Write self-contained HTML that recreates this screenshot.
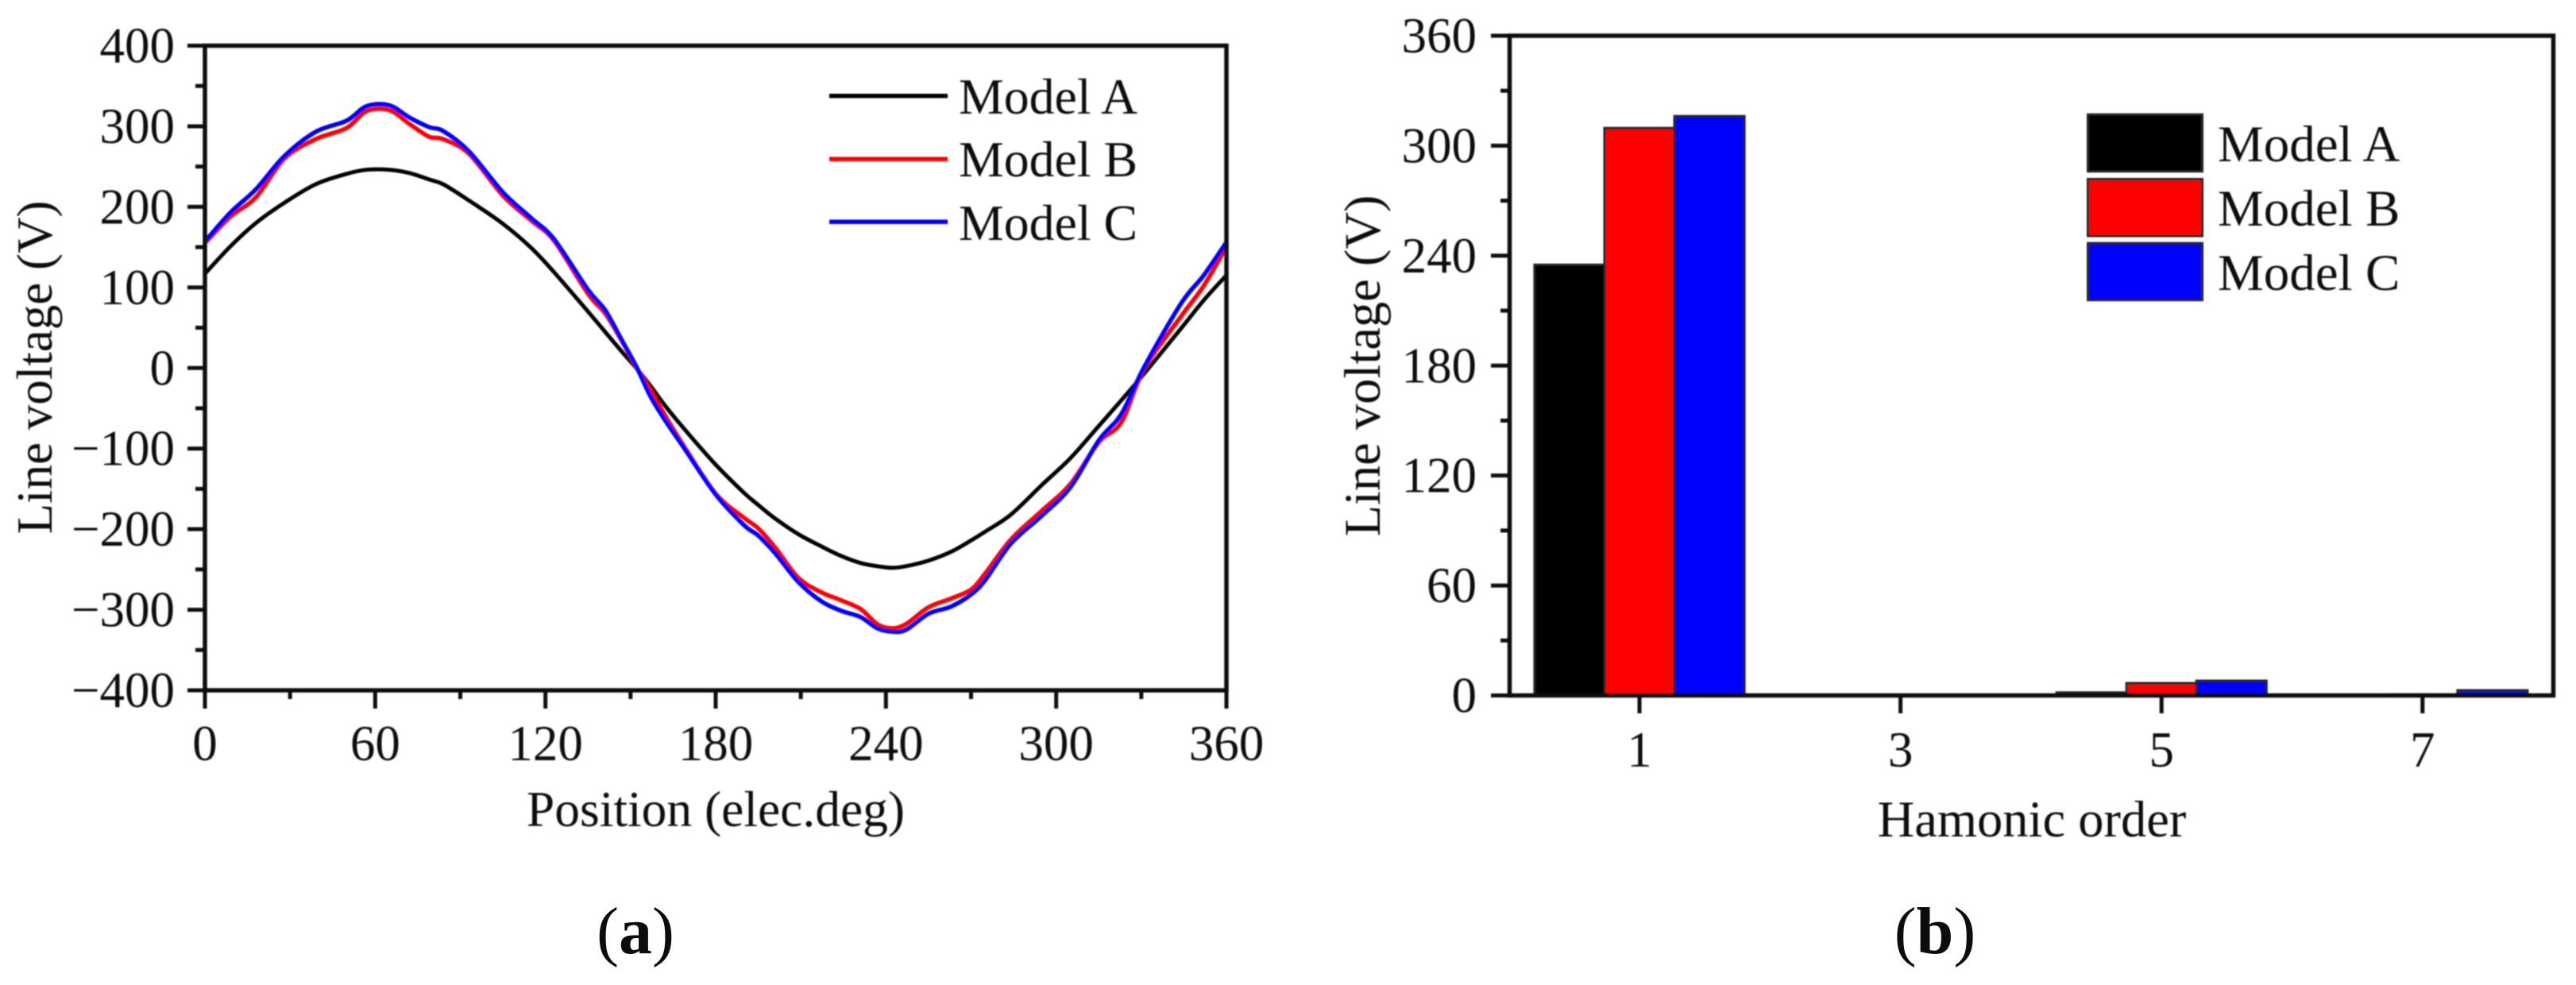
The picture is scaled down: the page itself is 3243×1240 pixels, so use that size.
<!DOCTYPE html>
<html lang="en">
<head>
<meta charset="utf-8">
<title>Line voltage waveform and harmonic spectrum</title>
<style>
  html, body { margin: 0; padding: 0; background: #fff; }
  svg { display: block; }
  text { font-family: "Liberation Serif", serif; fill: #0c0c0c; }
</style>
</head>
<body>
<svg id="fig" xmlns="http://www.w3.org/2000/svg" width="3243" height="1240" viewBox="0 0 3243 1240">
  <defs>
    <filter id="soft" x="-2%" y="-2%" width="104%" height="104%"><feGaussianBlur stdDeviation="0.7"/></filter>
  </defs>
  <rect x="0" y="0" width="3243" height="1240" fill="#fff"/>

  <g id="chartA" filter="url(#soft)">
    <g id="seriesA" fill="none" stroke-linejoin="round" stroke-linecap="round"></g>
    <rect x="258" y="57.5" width="1286" height="811.5" fill="none" stroke="#111" stroke-width="5.5"/>
    <g id="ticksA"></g>
    <text x="901" y="1040" font-size="63.5" text-anchor="middle">Position (elec.deg)</text>
    <text transform="translate(65 462.5) rotate(-90)" font-size="63" text-anchor="middle">Line voltage (V)</text>
    <g>
      <line x1="1044" x2="1193" y1="120.7" y2="120.7" stroke="#000" stroke-width="5.5"/>
      <text x="1207" y="143" font-size="63.8">Model A</text>
      <line x1="1044" x2="1193" y1="200.3" y2="200.3" stroke="#f00" stroke-width="5.5"/>
      <text x="1207" y="222" font-size="63.8">Model B</text>
      <line x1="1044" x2="1193" y1="279.3" y2="279.3" stroke="#00f" stroke-width="5.5"/>
      <text x="1207" y="302" font-size="63.8">Model C</text>
    </g>
  </g>
  <text x="800" y="1200" font-size="84" text-anchor="middle" fill="#000">(<tspan font-weight="bold">a</tspan>)</text>

  <g id="chartB" filter="url(#soft)">
    <g id="barsB"></g>
    <rect x="1900.5" y="45" width="1314" height="830.5" fill="none" stroke="#111" stroke-width="5.5"/>
    <g id="ticksB"></g>
    <text x="2558" y="1053" font-size="64.5" text-anchor="middle">Hamonic order</text>
    <text transform="translate(1737 460.5) rotate(-90)" font-size="64.5" text-anchor="middle">Line voltage (V)</text>
    <g>
      <rect x="2628.5" y="144.2" width="144" height="71.5" fill="#000" stroke="#222" stroke-width="3"/>
      <text x="2792" y="203" font-size="65">Model A</text>
      <rect x="2628.5" y="225.5" width="144" height="71.5" fill="#f00" stroke="#222" stroke-width="3"/>
      <text x="2792" y="284" font-size="65">Model B</text>
      <rect x="2628.5" y="306.2" width="144" height="71.5" fill="#00f" stroke="#222" stroke-width="3"/>
      <text x="2792" y="365" font-size="65">Model C</text>
    </g>
  </g>
  <text x="2436" y="1200" font-size="84" text-anchor="middle" fill="#000">(<tspan font-weight="bold">b</tspan>)</text>
</svg>

<script>
// Waveform chart data (electrical degrees, volts)
const positionDeg = [0,9,18,28,39,50,57,65,72,79,84,93,105,115,123,135,141,147,152,157,162,169,180,190,195,201,209,217,224,231,237,242,247,255,263,270,275,284,295,305,315,323,331,344,352,360];
const modelAVoltage = [117,151,180,205,228,241,246,246,242,234,228,208,179,149,119,70,45,20,0,-22,-46,-76,-120,-155,-170,-187,-206,-221,-233,-242,-246,-248,-246,-239,-228,-214,-203,-182,-145,-112,-72,-40,-7,49,84,115];
const modelBVoltage = [155,188,212,260,284,298,319,320,303,287,284,266,214,183,158,92,68,33,1,-27,-58,-98,-156,-186,-199,-223,-260,-278,-288,-299,-318,-323,-318,-297,-286,-275,-255,-213,-177,-144,-92,-67,-1,64,102,151];
const modelCVoltage = [157,193,222,263,293,307,325,326,311,299,294,269,218,186,160,97,72,34,2,-35,-64,-100,-157,-195,-208,-230,-265,-289,-301,-309,-323,-327,-325,-305,-296,-281,-263,-218,-183,-148,-90,-57,1,80,115,156];
const waveXTicks = [0,60,120,180,240,300,360];
const waveXMinorTicks = [30,90,150,210,270,330];
const waveYTicks = [-400,-300,-200,-100,0,100,200,300,400];
const waveYMinorTicks = [-350,-250,-150,-50,50,150,250,350];

// Harmonic chart data (order, volts)
const harmonicOrders = [1,3,5,7];
const modelAHarmonics = [235,0.2,1.6,0.4];
const modelBHarmonics = [309.6,0.2,6.7,0.5];
const modelCHarmonics = [316.1,0.2,8,2.8];
const harmYTicks = [0,60,120,180,240,300,360];
const harmYMinorTicks = [30,90,150,210,270,330];

const NS = 'http://www.w3.org/2000/svg';
function make(tag, parent) {
  const node = document.createElementNS(NS, tag);
  parent.appendChild(node);
  return node;
}

// Axis functions
function waveX(deg) { return 258 + (deg / 360) * 1286; }
function waveY(v) { return 463.25 - (v / 400) * 405.75; }
function harmX(order) { return 2064 + ((order - 1) / 2) * 328.6; }
function harmY(v) { return 875.5 - (v / 360) * 830.5; }
const BAR_WIDTH = (harmX(3) - harmX(1)) * 0.268;

function catmull(points) {
  let d = 'M' + points[0][0].toFixed(1) + ' ' + points[0][1].toFixed(1);
  for (let i = 0; i < points.length - 1; i++) {
    const p0 = points[Math.max(i - 1, 0)];
    const p1 = points[i];
    const p2 = points[i + 1];
    const p3 = points[Math.min(i + 2, points.length - 1)];
    const c1x = p1[0] + (p2[0] - p0[0]) / 6;
    const c1y = p1[1] + (p2[1] - p0[1]) / 6;
    const c2x = p2[0] - (p3[0] - p1[0]) / 6;
    const c2y = p2[1] - (p3[1] - p1[1]) / 6;
    d += 'C' + c1x.toFixed(1) + ' ' + c1y.toFixed(1) + ' ' + c2x.toFixed(1) + ' ' + c2y.toFixed(1) + ' ' + p2[0].toFixed(1) + ' ' + p2[1].toFixed(1);
  }
  return d;
}

function drawTick(parent, x1, y1, x2, y2, w) {
  const t = make('line', parent);
  
  
  t.setAttribute('x1', x1);
  t.setAttribute('y1', y1);
  t.setAttribute('x2', x2);
  t.setAttribute('y2', y2);
  t.setAttribute('stroke', '#111');
  t.setAttribute('stroke-width', w);
  return t;
}

function drawLabel(parent, x, y, anchor, size, str) {
  const t = make('text', parent);
  
  
  t.setAttribute('x', x);
  t.setAttribute('y', y);
  t.setAttribute('text-anchor', anchor);
  t.setAttribute('font-size', size);
  t.textContent = str;
  return t;
}

function fmt(v) { return v < 0 ? '\u2212' + Math.abs(v) : String(v); }

// Waveform series
const seriesGroup = document.getElementById('seriesA');
[[modelAVoltage, '#000', 5], [modelBVoltage, '#f00', 5.5], [modelCVoltage, '#00f', 5.5]].forEach(function (s) {
  const path = make('path', seriesGroup);
  
  
  path.setAttribute('d', catmull(positionDeg.map(function (deg, i) { return [waveX(deg), waveY(s[0][i])]; })));
  path.setAttribute('stroke', s[1]);
  path.setAttribute('stroke-width', s[2]);
});

// Waveform ticks and labels
const ticksA = document.getElementById('ticksA');
waveXTicks.forEach(function (d) {
  drawTick(ticksA, waveX(d), 869, waveX(d), 892, 5);
  drawLabel(ticksA, waveX(d), 957, 'middle', 63, fmt(d));
});
waveXMinorTicks.forEach(function (d) { drawTick(ticksA, waveX(d), 869, waveX(d), 880, 5); });
waveYTicks.forEach(function (v) {
  drawTick(ticksA, 236, waveY(v), 258, waveY(v), 5);
  drawLabel(ticksA, 220, waveY(v) + 21, 'end', 63, fmt(v));
});
waveYMinorTicks.forEach(function (v) { drawTick(ticksA, 246, waveY(v), 258, waveY(v), 5); });

// Harmonic bars
const barsGroup = document.getElementById('barsB');
[[modelAHarmonics, '#000', -1], [modelBHarmonics, '#f00', 0], [modelCHarmonics, '#00f', 1]].forEach(function (s) {
  harmonicOrders.forEach(function (order, i) {
    const bar = make('rect', barsGroup);
    
    
    bar.setAttribute('x', harmX(order) + s[2] * BAR_WIDTH - BAR_WIDTH / 2);
    bar.setAttribute('y', harmY(s[0][i]));
    bar.setAttribute('width', BAR_WIDTH);
    bar.setAttribute('height', harmY(0) - harmY(s[0][i]));
    bar.setAttribute('fill', s[1]);
    bar.setAttribute('stroke', '#222');
    bar.setAttribute('stroke-width', 3);
  });
});

// Harmonic ticks and labels
const ticksB = document.getElementById('ticksB');
harmonicOrders.forEach(function (order) {
  drawTick(ticksB, harmX(order), 875.5, harmX(order), 898, 5);
  drawLabel(ticksB, harmX(order), 965, 'middle', 63, String(order));
});
harmYTicks.forEach(function (v) {
  drawTick(ticksB, 1877, harmY(v), 1900.5, harmY(v), 5);
  drawLabel(ticksB, 1859, harmY(v) + 21, 'end', 63, String(v));
});
harmYMinorTicks.forEach(function (v) { drawTick(ticksB, 1889, harmY(v), 1900.5, harmY(v), 5); });
</script>
</body>
</html>
